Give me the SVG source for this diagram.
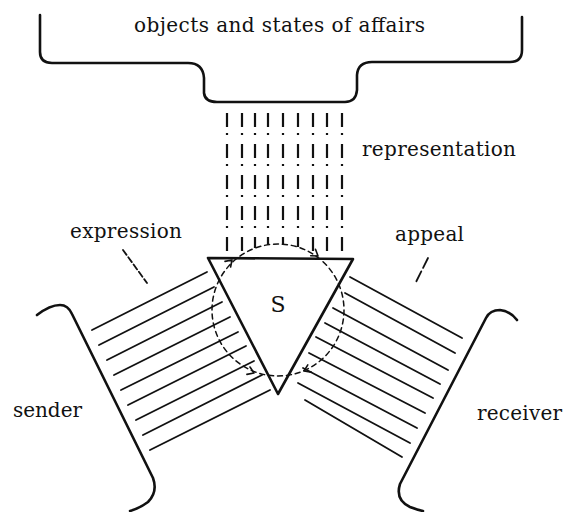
<svg xmlns="http://www.w3.org/2000/svg" width="563" height="512" viewBox="0 0 563 512">
<style>
.ln{fill:none;stroke:#111;stroke-linecap:round;stroke-linejoin:round}
.br{stroke-width:2.6}
.hatch{stroke-width:1.8}
.col{stroke-width:2.2;stroke-dasharray:14 6 2 9;stroke-linecap:butt}
.lbl{font-family:"DejaVu Serif","Liberation Serif",serif;font-size:20px;fill:#111}
</style>
<rect width="563" height="512" fill="#fff"/>
<g id="objects">
<path class="ln br" d="M40,15 L40,52 Q40,63 52,63 L188,63 Q203,63 204,78 L204,93 Q205,102 217,102 L345,102 Q356,102 357,90 L357,75 Q358,62 372,62 L510,62 Q522,62 522,50 L522,17"/>
<text class="lbl" x="134" y="32" textLength="291">objects and states of affairs</text>
</g>
<g id="representation">
<g class="ln col">
<line x1="227" y1="113" x2="227" y2="251"/>
<line x1="242" y1="113" x2="242" y2="251"/>
<line x1="255" y1="113" x2="255" y2="248"/>
<line x1="268" y1="113" x2="268" y2="245"/>
<line x1="283" y1="113" x2="283" y2="245"/>
<line x1="298" y1="113" x2="298" y2="247"/>
<line x1="313" y1="113" x2="313" y2="251"/>
<line x1="327" y1="113" x2="327" y2="251"/>
<line x1="342" y1="113" x2="342" y2="251"/>
</g>
<text class="lbl" x="362" y="156" textLength="154">representation</text>
</g>
<g id="expression">
<line class="ln" x1="123" y1="250" x2="147" y2="283" stroke-width="1.8" stroke-dasharray="6 3"/>
<text class="lbl" x="70" y="238" textLength="112">expression</text>
</g>
<g id="appeal">
<line class="ln" x1="428" y1="258" x2="415" y2="284" stroke-width="1.8" stroke-dasharray="11 4"/>
<text class="lbl" x="395" y="241" textLength="69">appeal</text>
</g>
<g id="sender">
<path class="ln br" d="M37,315 Q50,305 60,305 Q68,305 72,314 L153,478 Q158,492 148,502 Q140,508 130,511"/>
<text class="lbl" x="13" y="417" textLength="69">sender</text>
</g>
<g id="receiver">
<path class="ln br" d="M517,320 Q510,311 500,310 Q490,310 486,318 L400,484 Q395,500 410,507 Q418,510 423,511"/>
<text class="lbl" x="477" y="420" textLength="85">receiver</text>
</g>
<g id="connectors" class="ln hatch">
<line x1="92" y1="330" x2="207" y2="272"/>
<line x1="99" y1="345" x2="214" y2="287"/>
<line x1="107" y1="360" x2="222" y2="302"/>
<line x1="114" y1="375" x2="230" y2="317"/>
<line x1="121" y1="390" x2="238" y2="332"/>
<line x1="128" y1="405" x2="246" y2="346"/>
<line x1="136" y1="420" x2="254" y2="361"/>
<line x1="143" y1="435" x2="262" y2="375"/>
<line x1="150" y1="450" x2="270" y2="390"/>
<line x1="350" y1="277" x2="462" y2="338"/>
<line x1="345" y1="293" x2="455" y2="353"/>
<line x1="333" y1="308" x2="448" y2="370"/>
<line x1="325" y1="323" x2="440" y2="384"/>
<line x1="316" y1="337" x2="433" y2="398"/>
<line x1="309" y1="353" x2="425" y2="413"/>
<line x1="303" y1="368" x2="417" y2="428"/>
<line x1="298" y1="383" x2="410" y2="443"/>
<line x1="305" y1="400" x2="402" y2="457"/>
</g>
<g id="sign">
<circle class="ln" cx="278" cy="310" r="66" stroke-width="1.5" stroke-dasharray="5 4"/>
<polygon class="ln" points="208,258 353,259 278,394" stroke-width="2.6"/>
<g class="ln" stroke-width="1.6">
<polyline points="225,261.4 232,260 230.6,267"/>
<polyline points="315.5,249.3 318,256 310.7,255.7"/>
<polyline points="250,367 254,373 246.9,374.4"/>
<polyline points="307.8,364.9 304,371 311.2,372.1"/>
</g>
<text x="278" y="312" text-anchor="middle" font-family="DejaVu Serif,Liberation Serif,serif" font-size="22" fill="#111">S</text>
</g>
</svg>
